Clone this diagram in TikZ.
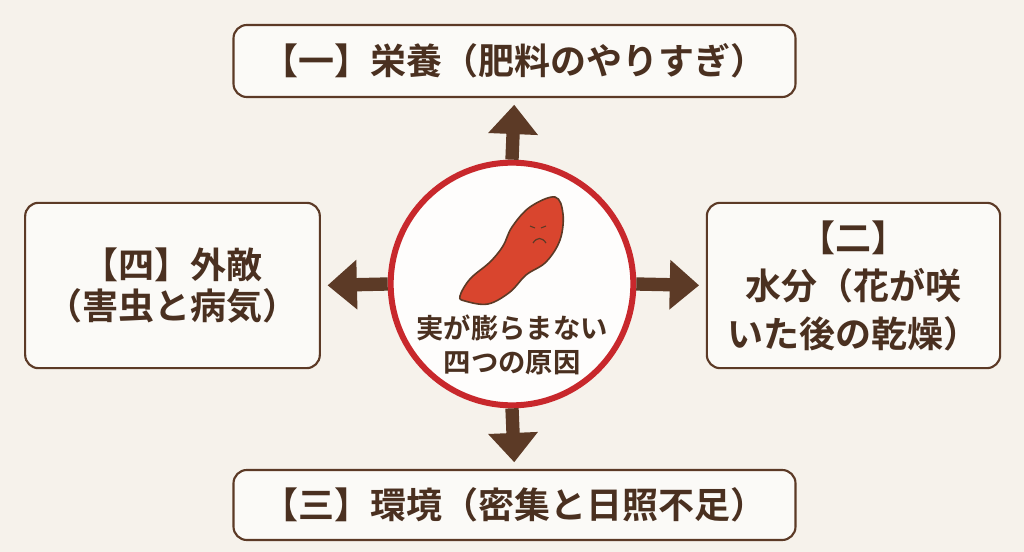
\documentclass[tikz,border=0pt]{standalone}
\usepackage{fontspec}
\setmainfont{Noto Sans CJK JP Bold}
\usetikzlibrary{arrows.meta}
\definecolor{bg}{HTML}{F6F2EB}
\definecolor{br}{HTML}{5C3A26}
\definecolor{tx}{HTML}{4A3020}
\definecolor{rd}{HTML}{C8282C}
\definecolor{pot}{HTML}{D9452E}
\begin{document}
\begin{tikzpicture}[x=0.75pt,y=-0.75pt,
  box/.style={draw=br,line width=1.6pt,rounded corners=10pt,fill=white!60!bg,text=tx,align=center,inner sep=0pt},
  arr/.style={draw=br,line width=10pt,-{Triangle[width=36pt,length=22pt]},shorten >=5pt}]
\fill[bg] (0,0) rectangle (1024,552);
\useasboundingbox (0,0) rectangle (1024,552);
\node[box,minimum width=421.5pt,minimum height=54pt,font=\fontsize{27}{30}\selectfont] (t) at (514.5,61) {【一】栄養（肥料のやりすぎ）};
\node[box,minimum width=421.5pt,minimum height=52.5pt,font=\fontsize{27}{30}\selectfont] (b) at (514.5,505) {【三】環境（密集と日照不足）};
\node[box,minimum width=221pt,minimum height=124pt,font=\fontsize{27}{31}\selectfont] (l) at (172.5,285.5) {【四】外敵\\（害虫と病気）};
\node[box,minimum width=220pt,minimum height=124pt,font=\fontsize{27}{36}\selectfont] (r) at (853.5,285.5) {【二】\\水分（花が咲\\いた後の乾燥）};
\node[circle,draw=rd,line width=4.5pt,fill=white!85!bg,minimum size=182pt] (c) at (512,284) {};
\draw[arr] (c.north) -- (t.south);
\draw[arr] (c.south) -- (b.north);
\draw[arr] (c.west) -- (l.east);
\draw[arr] (c.east) -- (r.west);
\draw[br,line width=1.2pt,fill=pot] plot[smooth cycle,tension=0.6] coordinates {(555,197) (563,214) (560,240) (546,262) (526,275) (510,292) (488,304) (465,301) (460,296) (470,279) (490,262) (503,246) (512,227) (530,207)};
\draw[br,line width=0.8pt] (530,226) -- (535,228) (541,228) -- (546,226);
\draw[br,line width=0.9pt] (533,243) .. controls (537,237) and (542,237) .. (546,243);
\node[text=tx,align=center,font=\fontsize{20.5}{25}\selectfont] (ct) at (512,345) {実が膨らまない\\四つの原因};
\end{tikzpicture}
\end{document}
